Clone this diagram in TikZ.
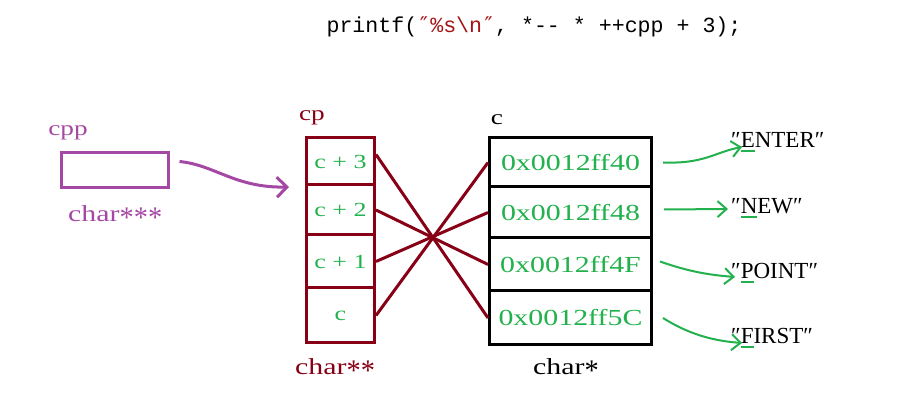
\documentclass[tikz,border=0pt]{standalone}
\usepackage{fontspec}
\setmainfont{Liberation Serif}
\newfontfamily\wideserif[FakeStretch=1.3]{Liberation Serif}
\newfontfamily\codemono{Liberation Mono}
\newfontfamily\quotefont{DejaVu Sans Mono}
\usetikzlibrary{arrows.meta}
\definecolor{ppurple}{HTML}{A349A4}
\definecolor{dred}{HTML}{880015}
\definecolor{pgreen}{HTML}{22B14C}
\definecolor{sred}{HTML}{A31515}
\newsavebox\ulbox
\newcommand\gul[1]{\sbox\ulbox{#1}\rlap{\color{pgreen}\rule[-4pt]{\wd\ulbox}{2pt}}\usebox\ulbox}
\newcommand\bast{\raisebox{-0.26em}{\scalebox{0.95}[1.3]{*}}}
\newcommand\dq{{\quotefont ″}}
\tikzset{
  lbl/.style={inner sep=0pt, font=\wideserif\fontsize{21}{21}\selectfont},
  biglbl/.style={inner sep=0pt, font=\wideserif\fontsize{23}{23}\selectfont},
  strlbl/.style={inner sep=0pt, anchor=base west, font=\fontsize{23}{23}\selectfont},
  ptrcell/.style={draw=dred, line width=3pt, minimum width=68pt, inner sep=0pt,
    text=pgreen, font=\wideserif\fontsize{20}{20}\selectfont},
  addrcell/.style={draw=black, line width=3pt, minimum width=162pt, inner sep=0pt,
    text=pgreen, font=\wideserif\fontsize{23}{23}\selectfont},
  cross/.style={dred, line width=3pt},
  garrow/.style={pgreen, line width=2pt, -{Straight Barb[length=9pt,width=16pt,line width=2pt]}},
  parrow/.style={ppurple, line width=3pt, -{Straight Barb[length=10pt,width=20pt,line width=3pt]}}
}
\begin{document}
\begin{tikzpicture}[x=1pt,y=-1pt]
\useasboundingbox (0,0) rectangle (924,411);

% title
\node[inner sep=0pt, font=\codemono\fontsize{21.6}{21.6}\selectfont] (title) at (534,27)
  {printf(\textcolor{sred}{\dq\%s\textbackslash n\dq}, *-- * ++cpp + 3);};

% cpp
\node[lbl, text=ppurple] (cpplbl) at (68,133) {cpp};
\node[draw=ppurple, line width=3pt, minimum width=107pt, minimum height=35pt, inner sep=0pt] (cppbox) at (114.5,170.5) {};
\node[biglbl, text=ppurple, anchor=base west] (cpptype) at (68,222) {char\bast\bast\bast};

% cp column
\node[lbl, text=dred] (cplbl) at (312,118) {cp};
\node[ptrcell, minimum height=47pt] (cp3) at (340.5,161.5) {c + 3};
\node[ptrcell, minimum height=50pt] (cp2) at (340.5,210) {c + 2};
\node[ptrcell, minimum height=53pt] (cp1) at (340.5,261.5) {c + 1};
\node[ptrcell, minimum height=55pt] (cp0) at (340.5,315.5) {c};
\node[biglbl, text=dred, anchor=base west] (cptype) at (295,375) {char\bast\bast};

% c column
\node[lbl, text=black] (clbl) at (497,120) {c};
\node[addrcell, minimum height=49pt] (a40) at (570.5,162.5) {0x0012ff40};
\node[addrcell, minimum height=51pt] (a48) at (570.5,212.5) {0x0012ff48};
\node[addrcell, minimum height=53pt] (a4F) at (570.5,264.5) {0x0012ff4F};
\node[addrcell, minimum height=54pt] (a5C) at (570.5,318) {0x0012ff5C};
\node[biglbl, text=black, anchor=base west] (ctype) at (533,375) {char\bast};

% crossing lines
\draw[cross] ([yshift=7pt]cp3.east) -- (a5C.west);
\draw[cross] (cp2.east) -- (a4F.west);
\draw[cross] (cp1.east) -- (a48.west);
\draw[cross] (cp0.east) -- (a40.west);

% purple arrow
\coordinate (ptip) at (289,187);
\draw[parrow] ([xshift=10pt,yshift=9pt]cppbox.east) .. controls (215,165) and (235,188) .. (ptip);

% strings
\node[strlbl] (sENTER) at (731,148) {″\gul{E}NTER″};
\node[strlbl] (sNEW) at (731,214) {″\gul{N}EW″};
\node[strlbl] (sPOINT) at (731,279) {″\gul{P}OINT″};
\node[strlbl] (sFIRST) at (731,344) {″\gul{F}IRST″};

\coordinate (t1) at (742,147);
\coordinate (t2) at (728,209);
\coordinate (t3) at (735,277);
\coordinate (t4) at (742,343);
\draw[garrow] ([xshift=10pt]a40.east) .. controls (705,164) and (715,152) .. (t1);
\draw[garrow] ([xshift=11pt,yshift=3pt]a48.east) -- (t2);
\draw[garrow] ([xshift=7pt,yshift=3pt]a4F.east) .. controls (690,272) and (710,275) .. (t3);
\draw[garrow] ([xshift=10pt]a5C.east) .. controls (690,335) and (715,341) .. (t4);
\end{tikzpicture}
\end{document}
